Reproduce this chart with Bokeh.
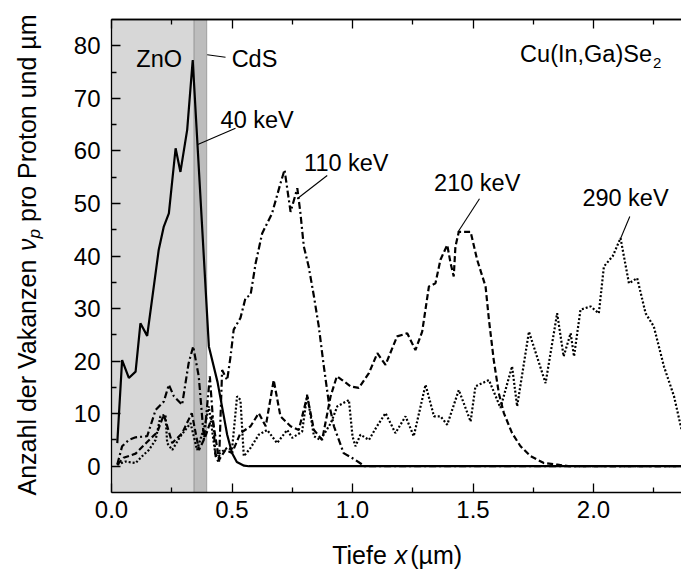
import math
from bokeh.plotting import figure
from bokeh.models import BoxAnnotation, Label, LinearAxis, FixedTicker
from bokeh.embed import file_html
from bokeh.resources import INLINE

# ---------------- data ----------------
depth_40 = [0.024, 0.044, 0.072, 0.100, 0.120, 0.148, 0.196, 0.217, 0.238, 0.266,
            0.286, 0.314, 0.337, 0.404, 0.440, 0.460, 0.480, 0.500, 0.520, 0.550,
            0.570, 2.365]
vac_40 = [4.4, 20.2, 16.8, 18.0, 27.2, 24.8, 41.2, 45.6, 48.1, 60.5,
          56.0, 64.0, 77.3, 22.8, 16.0, 11.0, 6.0, 2.5, 0.8, 0.1,
          0.0, 0.0]

depth_110 = [0.024, 0.044, 0.072, 0.100, 0.148, 0.183, 0.217, 0.238, 0.259, 0.293,
             0.320, 0.339, 0.362, 0.384, 0.408, 0.432, 0.446, 0.459, 0.480, 0.494,
             0.507, 0.535, 0.556, 0.577, 0.598, 0.625, 0.666, 0.701, 0.718, 0.743,
             0.771, 0.784, 0.798, 0.818, 0.840, 0.860, 0.881, 0.902, 0.923, 0.963,
             1.012, 1.050, 2.365]
vac_110 = [0.3, 3.8, 5.0, 5.5, 5.7, 10.7, 12.3, 15.5, 13.3, 11.7,
           19.6, 22.8, 17.1, 5.0, 17.1, 1.9, 0.6, 18.3, 16.4, 20.9,
           26.0, 28.2, 32.0, 32.6, 38.6, 44.3, 48.1, 53.8, 56.4, 48.4,
           52.9, 48.1, 41.8, 38.0, 32.3, 26.6, 19.0, 12.0, 7.6, 2.5,
           1.2, 0.0, 0.0]

depth_210 = [0.024, 0.050, 0.100, 0.150, 0.190, 0.217, 0.252, 0.293, 0.333, 0.363,
             0.390, 0.418, 0.446, 0.473, 0.500, 0.535, 0.577, 0.611, 0.640, 0.673,
             0.701, 0.743, 0.777, 0.812, 0.840, 0.874, 0.909, 0.935, 0.957, 0.992,
             1.026, 1.068, 1.103, 1.137, 1.185, 1.227, 1.261, 1.289, 1.317, 1.344,
             1.365, 1.393, 1.407, 1.420, 1.427, 1.441, 1.490, 1.517, 1.552, 1.566,
             1.586, 1.607, 1.628, 1.662, 1.697, 1.739, 1.794, 1.850, 1.900, 2.365]
vac_210 = [0.3, 1.6, 2.4, 4.7, 6.5, 9.8, 4.4, 6.3, 10.1, 3.1,
           5.7, 9.5, 1.2, 3.1, 2.5, 6.3, 7.6, 10.1, 7.6, 16.4,
           9.5, 7.6, 6.9, 13.3, 6.9, 5.0, 13.3, 17.1, 16.4, 15.2,
           14.9, 17.7, 21.5, 19.3, 24.7, 25.3, 22.1, 25.6, 34.2, 34.8,
           39.3, 42.1, 38.6, 36.1, 41.8, 44.6, 44.6, 39.3, 34.2, 27.9,
           20.2, 13.9, 10.1, 6.3, 3.8, 1.9, 0.6, 0.3, 0.0, 0.0]

depth_290 = [0.024, 0.058, 0.100, 0.127, 0.155, 0.183, 0.203, 0.224, 0.231, 0.252,
             0.286, 0.328, 0.355, 0.390, 0.404, 0.432, 0.480, 0.500, 0.521, 0.535,
             0.549, 0.577, 0.611, 0.646, 0.687, 0.729, 0.750, 0.791, 0.812, 0.840,
             0.867, 0.910, 0.937, 0.985, 1.000, 1.012, 1.033, 1.068, 1.100, 1.137,
             1.178, 1.220, 1.254, 1.303, 1.338, 1.365, 1.393, 1.441, 1.490, 1.510,
             1.566, 1.614, 1.662, 1.683, 1.732, 1.801, 1.849, 1.876, 1.905, 1.919,
             1.946, 1.988, 2.022, 2.043, 2.080, 2.112, 2.147, 2.181, 2.216, 2.250,
             2.292, 2.334, 2.365]
vac_290 = [0.3, 0.9, 0.6, 1.9, 3.1, 5.0, 9.5, 9.8, 4.4, 3.1,
           5.7, 8.2, 3.1, 8.2, 11.4, 1.9, 3.5, 3.1, 13.3, 12.6,
           1.9, 3.5, 6.0, 6.9, 4.4, 6.9, 5.4, 6.6, 13.6, 5.7,
           5.0, 8.2, 11.4, 12.6, 5.7, 3.8, 6.0, 5.0, 7.5, 10.1,
           6.3, 9.5, 5.7, 15.5, 9.5, 9.5, 7.9, 14.5, 8.5, 15.2,
           16.4, 11.1, 19.0, 11.4, 25.6, 15.8, 29.1, 20.9, 25.3, 20.9,
           29.8, 30.4, 29.1, 38.0, 40.0, 43.4, 34.8, 35.8, 29.1, 26.6,
           19.0, 13.3, 7.0]

layer_names = ["ZnO", "CdS"]
layer_bounds = [0.0, 0.342, 0.395]          # µm
energy_labels = ["40 keV", "110 keV", "210 keV", "290 keV"]

x_major = [0.0, 0.5, 1.0, 1.5, 2.0]
x_minor = [0.25, 0.75, 1.25, 1.75, 2.25]
x_labels = ["0.0", "0.5", "1.0", "1.5", "2.0"]
y_major = [0, 10, 20, 30, 40, 50, 60, 70, 80]
y_minor = [5, 15, 25, 35, 45, 55, 65, 75]
y_labels = ["0", "10", "20", "30", "40", "50", "60", "70", "80"]

# ---------------- geometry ----------------
W, H = 681, 572
FL, FR, FT, FB = 111, 681, 19, 492          # axes box in screen pixels
X0, X1 = 0.0, 2.365
Y0, Y1 = -5.0, 85.0
FONT = "Liberation Sans"

def dx(px):
    return X0 + (px - FL) * (X1 - X0) / (FR - FL)

def dy(py):
    return Y0 + (FB - py) * (Y1 - Y0) / (FB - FT)

ARIAL = {' ': 278, '(': 333, ')': 333, ',': 278, '.': 278, 'A': 667, 'C': 722,
         'G': 778, 'I': 278, 'P': 667, 'S': 667, 'T': 611, 'V': 667, 'a': 556,
         'd': 556, 'e': 556, 'f': 278, 'h': 556, 'i': 222, 'k': 500, 'l': 222,
         'm': 833, 'n': 556, 'o': 556, 'p': 556, 'r': 333, 't': 278, 'u': 556,
         'x': 500, 'z': 500, 'µ': 576, 'ν': 500}
for d in "0123456789":
    ARIAL[d] = 556

def adv(s, size):
    return sum(ARIAL.get(c, 556) for c in s) * size / 1000.0

# the frame covers the whole canvas; the axes are pinned at the data box edges
p = figure(width=W, height=H, x_range=(dx(0), dx(W)), y_range=(dy(H), dy(0)),
           output_backend="svg", toolbar_location=None,
           x_axis_location=None, y_axis_location=None,
           min_border_left=0, min_border_right=0, min_border_top=0, min_border_bottom=0)
p.outline_line_color = None
p.xgrid.visible = False
p.ygrid.visible = False
p.background_fill_color = "white"
p.border_fill_color = "white"

def base_axis(ax):
    ax.axis_line_width = 1.3
    ax.axis_line_color = "black"
    ax.major_tick_line_width = 1.3
    ax.minor_tick_line_width = 1.3
    ax.major_tick_line_color = "black"
    ax.minor_tick_line_color = "black"
    ax.major_tick_out = 0
    ax.minor_tick_out = 0
    ax.major_tick_in = 9
    ax.minor_tick_in = 5
    ax.major_label_text_font = FONT
    ax.major_label_text_font_size = "24px"
    ax.major_label_text_color = "black"
    ax.axis_label = None

xax = LinearAxis(fixed_location=Y0, bounds=(X0, X1))
base_axis(xax)
xax.ticker = FixedTicker(ticks=x_major, minor_ticks=x_minor)
xax.major_label_overrides = {float(t): l for t, l in zip(x_major, x_labels)}
xax.major_label_standoff = 8
p.add_layout(xax, "below")

yax = LinearAxis(fixed_location=X0, bounds=(Y0, Y1))
base_axis(yax)
yax.ticker = FixedTicker(ticks=y_major, minor_ticks=y_minor)
yax.major_label_overrides = {float(t): l for t, l in zip(y_major, y_labels)}
yax.major_label_standoff = 11
p.add_layout(yax, "left")

# top spine: tick marks only (no labels) -> two label-free axes
top_minor = LinearAxis(fixed_location=Y1, bounds=(X0, X1))
base_axis(top_minor)
top_minor.ticker = FixedTicker(ticks=[], minor_ticks=x_minor)
top_minor.minor_tick_in = 5
p.add_layout(top_minor, "above")
top_major = LinearAxis(fixed_location=Y1, bounds=(X0, X1))
base_axis(top_major)
top_major.ticker = FixedTicker(ticks=[], minor_ticks=x_major)
top_major.minor_tick_in = 9
p.add_layout(top_major, "above")

# layers (ZnO, CdS)
p.add_layout(BoxAnnotation(left=layer_bounds[0], right=layer_bounds[1], bottom=Y0, top=Y1,
                           fill_color="#d7d7d7", fill_alpha=1.0, line_color=None,
                           level="underlay"))
p.add_layout(BoxAnnotation(left=layer_bounds[1], right=layer_bounds[2], bottom=Y0, top=Y1,
                           fill_color="#bdbdbd", fill_alpha=1.0, line_color="#3a3a3a",
                           line_width=1.2, level="underlay"))

# curves
p.line(depth_290, vac_290, line_color="black", line_width=2.2, line_dash="2 2")
p.line(depth_210, vac_210, line_color="black", line_width=2.2, line_dash="6 3")
p.line(depth_110, vac_110, line_color="black", line_width=2.2, line_dash="7 3 2 3")
p.line(depth_40, vac_40, line_color="black", line_width=2.2)

# annotation texts
ANN = "23.5px"
def ann(text, px, py, align="center"):
    p.add_layout(Label(x=dx(px), y=dy(py), text=text, text_font=FONT,
                       text_font_size=ANN, text_align=align, text_baseline="middle",
                       text_color="black"))

ann(layer_names[0], 158.7, 58.3)
ann(layer_names[1], 254.0, 58.3)
ann(energy_labels[0], 256.7, 119.0)
ann(energy_labels[1], 345.8, 162.5)
ann(energy_labels[2], 476.7, 182.5)
ann(energy_labels[3], 625.0, 197.5)
ann("Cu(In,Ga)Se", 651.5, 53.0, align="right")
p.add_layout(Label(x=dx(652.5), y=dy(62.0), text="2", text_font=FONT,
                   text_font_size="15px", text_align="left", text_baseline="middle",
                   text_color="black"))

# leader lines
lead_x0 = [dx(206.7), dx(235.0), dx(326.7), dx(479.0), dx(629.3)]
lead_y0 = [dy(54.3), dy(127.7), dy(175.0), dy(198.3), dy(216.0)]
lead_x1 = [dx(225.0), dx(197.3), dx(296.7), dx(457.3), dx(620.0)]
lead_y1 = [dy(56.7), dy(144.0), dy(198.3), dy(231.7), dy(238.3)]
p.segment(lead_x0, lead_y0, lead_x1, lead_y1, line_color="black", line_width=1.1)

# axis titles (composed to allow italic / subscript parts); anchors at text middle
LS = 25
def title_part(text, px, py, size=LS, style="normal", angle=0.0):
    p.add_layout(Label(x=dx(px), y=dy(py), text=text, text_font=FONT,
                       text_font_size=f"{size}px", text_font_style=style, angle=angle,
                       text_align="left", text_baseline="middle", text_color="black"))

# x title: "Tiefe x (µm)"
xs, xm = 331.7, 554.3
title_part("Tiefe", xs, xm)
xs2 = xs + adv("Tiefe ", LS)
title_part("x", xs2, xm, style="italic")
xs3 = xs2 + adv("x", LS) + 3
title_part("(µm)", xs3, xm)

# y title (rotated, reading upwards)
ym_x, pos = 26.0, 495.0
SUB = 17
title_part("Anzahl der Vakanzen", ym_x, pos, angle=math.pi / 2)
pos -= adv("Anzahl der Vakanzen ", LS)
title_part("ν", ym_x, pos, style="italic", angle=math.pi / 2)
pos -= adv("ν", LS)
title_part("p", ym_x + 8, pos, size=SUB, style="italic", angle=math.pi / 2)
pos -= adv("p", SUB) + adv(" ", LS)
title_part("pro Proton und µm", ym_x, pos, angle=math.pi / 2)

open("out.html", "w").write(file_html(p, INLINE))
